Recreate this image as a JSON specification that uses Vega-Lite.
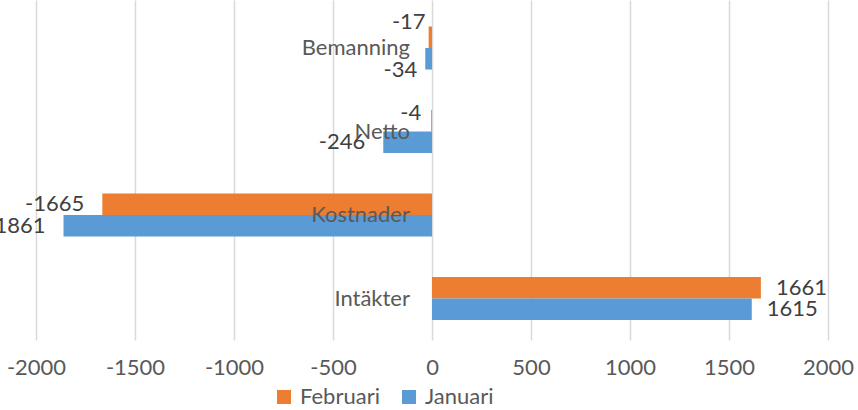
{
  "$schema": "https://vega.github.io/schema/vega-lite/v6.json",
  "autosize": {"type": "none"},
  "width": 792,
  "height": 340,
  "padding": {"left": 36, "top": 0, "right": 30, "bottom": 70},
  "background": "white",
  "config": {
    "view": {"stroke": null},
    "font": "Lato"
  },
  "data": {
    "values": [
      {"kategori": "Bemanning", "serie": "Februari", "varde": -17},
      {"kategori": "Bemanning", "serie": "Januari", "varde": -34},
      {"kategori": "Netto", "serie": "Februari", "varde": -4},
      {"kategori": "Netto", "serie": "Januari", "varde": -246},
      {"kategori": "Kostnader", "serie": "Februari", "varde": -1665},
      {"kategori": "Kostnader", "serie": "Januari", "varde": -1861},
      {"kategori": "Intäkter", "serie": "Februari", "varde": 1661},
      {"kategori": "Intäkter", "serie": "Januari", "varde": 1615}
    ]
  },
  "encoding": {
    "y": {
      "field": "kategori",
      "type": "nominal",
      "sort": ["Bemanning", "Netto", "Kostnader", "Intäkter"],
      "scale": {"paddingInner": 0.485, "paddingOuter": 0.2785, "align": 0.57},
      "axis": null
    },
    "x": {
      "field": "varde",
      "type": "quantitative",
      "scale": {"domain": [-2000, 2000], "nice": false, "zero": false}
    },
    "yOffset": {
      "field": "serie",
      "type": "nominal",
      "sort": ["Februari", "Januari"],
      "scale": {"paddingInner": 0, "paddingOuter": 0}
    }
  },
  "layer": [
    {
      "mark": {"type": "bar"},
      "encoding": {
        "x": {
          "field": "varde",
          "type": "quantitative",
          "axis": {
            "values": [-2000, -1500, -1000, -500, 0, 500, 1000, 1500, 2000],
            "labelExpr": "datum.value + ''",
            "title": null,
            "domain": false,
            "ticks": false,
            "grid": true,
            "gridColor": "#d9d9d9",
            "gridWidth": 1.5,
            "labelFont": "Lato",
            "labelFontSize": 22,
            "labelColor": "#595959",
            "labelPadding": 17,
            "labelFlush": false
          }
        },
        "color": {
          "field": "serie",
          "type": "nominal",
          "scale": {"domain": ["Februari", "Januari"], "range": ["#ED7D31", "#5B9BD5"]},
          "legend": {
            "orient": "none",
            "legendX": 237,
            "legendY": 386,
            "direction": "horizontal",
            "title": null,
            "symbolType": "square",
            "symbolSize": 196,
            "symbolStrokeWidth": 0,
            "labelFont": "Lato",
            "labelFontSize": 22,
            "labelColor": "#595959",
            "columnPadding": 18,
            "labelOffset": 5
          }
        }
      }
    },
    {
      "transform": [{"filter": "datum.varde < 0 && (datum.kategori === 'Kostnader' || (datum.kategori === 'Netto' && datum.serie === 'Januari'))"}],
      "mark": {"type": "text", "align": "right", "baseline": "middle", "dx": -18, "fontSize": 22, "font": "Lato", "color": "#404040"},
      "encoding": {
        "text": {"field": "varde", "type": "nominal"}
      }
    },
    {
      "transform": [{"filter": "datum.kategori === 'Bemanning' && datum.serie === 'Februari'"}],
      "mark": {"type": "text", "align": "right", "baseline": "middle", "dx": -3, "dy": -15, "fontSize": 22, "font": "Lato", "color": "#404040"},
      "encoding": {
        "text": {"field": "varde", "type": "nominal"}
      }
    },
    {
      "transform": [{"filter": "datum.kategori === 'Bemanning' && datum.serie === 'Januari'"}],
      "mark": {"type": "text", "align": "right", "baseline": "middle", "dx": -8, "dy": 11, "fontSize": 22, "font": "Lato", "color": "#404040"},
      "encoding": {
        "text": {"field": "varde", "type": "nominal"}
      }
    },
    {
      "transform": [{"filter": "datum.kategori === 'Netto' && datum.serie === 'Februari'"}],
      "mark": {"type": "text", "align": "right", "baseline": "middle", "dx": -10, "dy": -8, "fontSize": 22, "font": "Lato", "color": "#404040"},
      "encoding": {
        "text": {"field": "varde", "type": "nominal"}
      }
    },
    {
      "transform": [{"filter": "datum.varde >= 0"}],
      "mark": {"type": "text", "align": "left", "baseline": "middle", "dx": 15, "fontSize": 22, "font": "Lato", "color": "#404040"},
      "encoding": {
        "text": {"field": "varde", "type": "nominal"}
      }
    },
    {
      "transform": [{"filter": "datum.serie === 'Februari'"}],
      "mark": {"type": "text", "align": "right", "baseline": "middle", "dx": -22, "fontSize": 22, "font": "Lato", "color": "#595959"},
      "encoding": {
        "x": {"datum": 0, "type": "quantitative"},
        "yOffset": null,
        "text": {"field": "kategori", "type": "nominal"}
      }
    }
  ]
}
